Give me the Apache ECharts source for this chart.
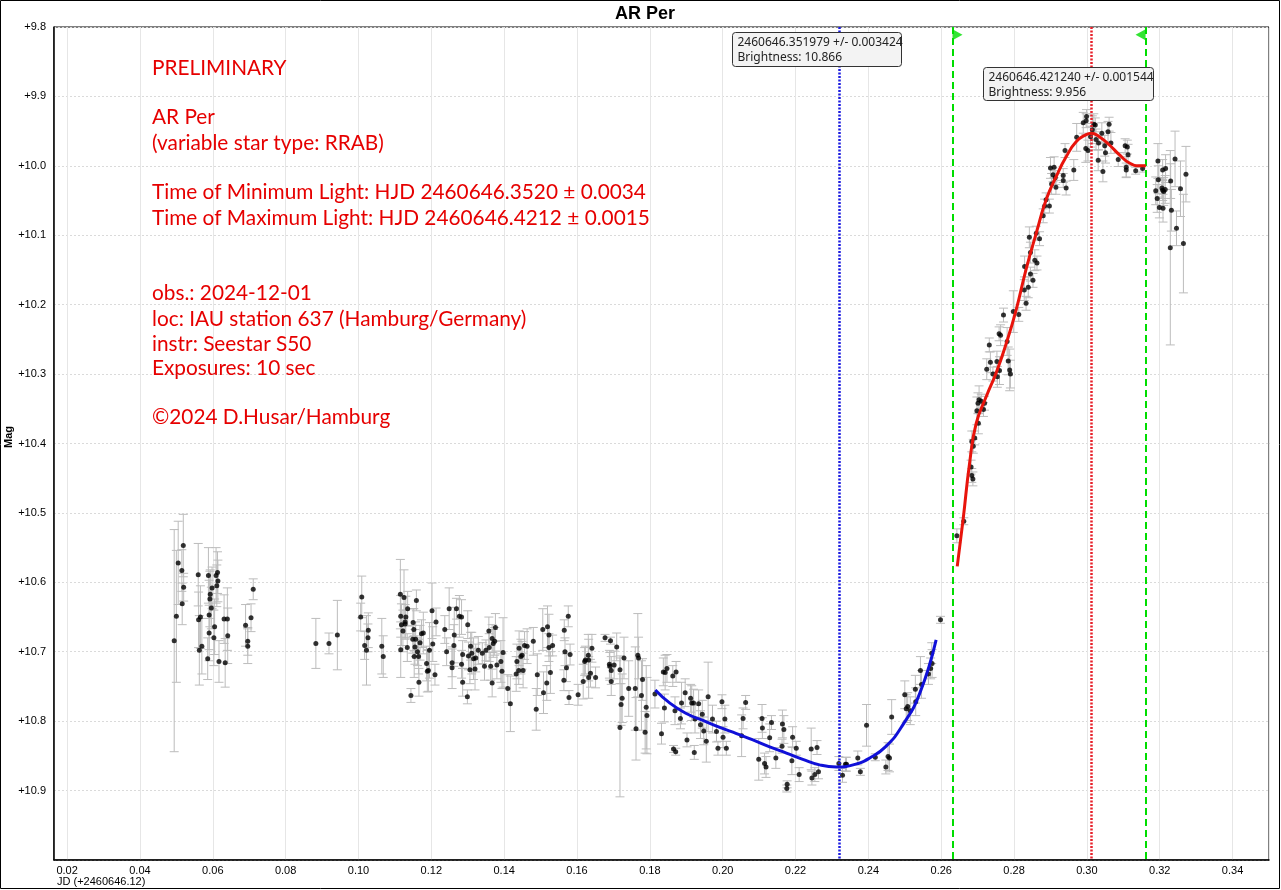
<!DOCTYPE html>
<html>
<head>
<meta charset="utf-8">
<title>AR Per</title>
<script src="https://cdn.jsdelivr.net/npm/echarts@6/dist/echarts.min.js"></script>
<style>
  html, body { margin: 0; padding: 0; background: #fff; }
  #chart { width: 1281px; height: 890px; }
</style>
</head>
<body>
<div id="chart"></div>
<script>
// observations: JD offset (+2460646.12), magnitude, error
const jd = [
  0.0494, 0.0500, 0.0505, 0.0515, 0.0520, 0.0516, 0.0519, 0.0560, 0.0561, 0.0566, 0.0563, 0.0570,
  0.0586, 0.0588, 0.0590, 0.0590, 0.0592, 0.0593, 0.0596, 0.0598, 0.0603, 0.0605, 0.0609, 0.0611,
  0.0613, 0.0614, 0.0617, 0.0631, 0.0640, 0.0634, 0.0641, 0.0690, 0.0705, 0.0711, 0.0696, 0.0696,
  0.0883, 0.0919, 0.0942, 0.1009, 0.1006, 0.1017, 0.1022, 0.1027, 0.1026, 0.1064, 0.1068,
  0.1115, 0.1125, 0.1116, 0.1118, 0.1122, 0.1116, 0.1128, 0.1130, 0.1135, 0.1128, 0.1150, 0.1152,
  0.1159, 0.1144, 0.1134, 0.1149, 0.1157, 0.1155, 0.1153, 0.1162, 0.1165, 0.1166, 0.1169, 0.1173,
  0.1178, 0.1187, 0.1192, 0.1189, 0.1204, 0.1202, 0.1213, 0.1210, 0.1195, 0.1237, 0.1242, 0.1249,
  0.1269, 0.1263, 0.1262, 0.1257, 0.1257, 0.1277, 0.1283, 0.1286, 0.1283, 0.1286, 0.1300, 0.1299,
  0.1302, 0.1306, 0.1308, 0.1311, 0.1316, 0.1320, 0.1322, 0.1329, 0.1340, 0.1346, 0.1350, 0.1358,
  0.1359, 0.1363, 0.1367, 0.1367, 0.1370, 0.1374, 0.1376, 0.1380, 0.1391, 0.1394, 0.1397, 0.1410,
  0.1417, 0.1433, 0.1435, 0.1441, 0.1440, 0.1446, 0.1449, 0.1452, 0.1456, 0.1463, 0.1480, 0.1488,
  0.1491, 0.1506, 0.1508, 0.1517, 0.1519, 0.1523, 0.1523, 0.1527, 0.1533, 0.1564, 0.1565, 0.1567,
  0.1571, 0.1576, 0.1578, 0.1581, 0.1603, 0.1617, 0.1621, 0.1623, 0.1631, 0.1632, 0.1632, 0.1637,
  0.1641, 0.1651, 0.1677, 0.1692, 0.1689, 0.1690, 0.1694, 0.1694, 0.1702, 0.1709, 0.1718, 0.1718,
  0.1721, 0.1724, 0.1729, 0.1742, 0.1762, 0.1760, 0.1767, 0.1769, 0.1777, 0.1780, 0.1787, 0.1790,
  0.1792, 0.1814, 0.1832, 0.1837, 0.1842, 0.1847, 0.1840, 0.1863, 0.1872, 0.1865, 0.1871, 0.1869,
  0.1884, 0.1887, 0.1897, 0.1902, 0.1912, 0.1915, 0.1922, 0.1920, 0.1924, 0.1934, 0.1939, 0.1944,
  0.1948, 0.1955, 0.1960, 0.1972, 0.1983, 0.1987, 0.1998, 0.2001, 0.2006, 0.2010, 0.2052, 0.2056,
  0.2063, 0.2099, 0.2109, 0.2108, 0.2115, 0.2119, 0.2129, 0.2134, 0.2146, 0.2163, 0.2164, 0.2168,
  0.2177, 0.2176, 0.2190, 0.2192, 0.2202, 0.2210, 0.2243, 0.2245, 0.2253, 0.2259, 0.2263, 0.2319,
  0.2329, 0.2337, 0.2340, 0.2371, 0.2378, 0.2395, 0.2419, 0.2448, 0.2454, 0.2458, 0.2464, 0.2500,
  0.2504, 0.2508, 0.2515, 0.2529, 0.2530, 0.2543, 0.2546, 0.2565, 0.2571, 0.2575, 0.2574, 0.2598,
  0.2643, 0.2662, 0.2682, 0.2684, 0.2687, 0.2684, 0.2688, 0.2692, 0.2698, 0.2701, 0.2704, 0.2710,
  0.2716, 0.2719, 0.2702, 0.2725, 0.2735, 0.2732, 0.2742, 0.2754, 0.2760, 0.2753, 0.2759, 0.2763,
  0.2771, 0.2781, 0.2784, 0.2788, 0.2790, 0.2798, 0.2813, 0.2828, 0.2833, 0.2839, 0.2829, 0.2842,
  0.2845, 0.2845, 0.2852, 0.2857, 0.2863, 0.2861, 0.2870, 0.2880, 0.2884, 0.2888, 0.2897, 0.2903,
  0.2900, 0.2910, 0.2907, 0.2915, 0.2913, 0.2935, 0.2935, 0.2943, 0.2940, 0.2964, 0.2972, 0.2990,
  0.2998, 0.2999, 0.2997, 0.3003, 0.3010, 0.3015, 0.3019, 0.3023, 0.3025, 0.3032, 0.3041, 0.3044,
  0.3031, 0.3051, 0.3049, 0.3058, 0.3061, 0.3066, 0.3086, 0.3105, 0.3111, 0.3113, 0.3108, 0.3108,
  0.3134, 0.3153,
  0.3195, 0.3189, 0.3193, 0.3196, 0.3199, 0.3206, 0.3208, 0.3211, 0.3209, 0.3208, 0.3216, 0.3215,
  0.3229, 0.3232, 0.3230, 0.3242, 0.3246, 0.3257, 0.3265, 0.3272
];
const mag = [
  10.684, 10.649, 10.572, 10.583, 10.607, 10.631, 10.547, 10.589, 10.654, 10.650, 10.698, 10.692,
  10.710, 10.590, 10.647, 10.673, 10.624, 10.617, 10.637, 10.608, 10.680, 10.664, 10.590, 10.605,
  10.586, 10.598, 10.714, 10.653, 10.653, 10.716, 10.677, 10.662, 10.651, 10.610, 10.685, 10.692,
  10.688, 10.688, 10.676, 10.621, 10.650, 10.691, 10.698, 10.669, 10.680, 10.692, 10.707,
  10.617, 10.622, 10.649, 10.661, 10.670, 10.697, 10.657, 10.650, 10.638, 10.660, 10.658, 10.668,
  10.626, 10.763, 10.694, 10.682, 10.682, 10.693, 10.707, 10.700, 10.707, 10.744, 10.687, 10.674,
  10.673, 10.717, 10.727, 10.728, 10.689, 10.641, 10.657, 10.733, 10.698, 10.668, 10.700, 10.638,
  10.638, 10.676, 10.691, 10.716, 10.723, 10.649, 10.650, 10.744, 10.718, 10.704, 10.661, 10.765,
  10.706, 10.726, 10.692, 10.702, 10.710, 10.725, 10.709, 10.698, 10.702, 10.721, 10.698, 10.670,
  10.694, 10.721, 10.681, 10.745, 10.688, 10.685, 10.665, 10.719, 10.714, 10.728, 10.701, 10.753,
  10.775, 10.732, 10.714, 10.695, 10.727, 10.707, 10.705, 10.727, 10.691, 10.692, 10.685, 10.783,
  10.733, 10.668, 10.759, 10.745, 10.664, 10.676, 10.694, 10.730, 10.691, 10.741, 10.669, 10.700,
  10.723, 10.649, 10.766, 10.704, 10.762, 10.743, 10.714, 10.712, 10.705, 10.712, 10.737, 10.731,
  10.695, 10.737, 10.680, 10.684, 10.718, 10.721, 10.727, 10.743, 10.719, 10.693, 10.726, 10.809,
  10.776, 10.767, 10.709, 10.753, 10.811, 10.753, 10.705, 10.709, 10.763, 10.740, 10.816, 10.780,
  10.792, 10.761, 10.818, 10.729, 10.730, 10.724, 10.781, 10.735, 10.729, 10.840, 10.844, 10.785,
  10.796, 10.774, 10.759, 10.827, 10.767, 10.774, 10.845, 10.774, 10.797, 10.775, 10.805, 10.790,
  10.814, 10.829, 10.765, 10.797, 10.815, 10.839, 10.772, 10.823, 10.797, 10.839, 10.821, 10.796,
  10.773, 10.855, 10.810, 10.796, 10.861, 10.866, 10.824, 10.802, 10.853, 10.836, 10.804, 10.812,
  10.891, 10.897, 10.857, 10.823, 10.839, 10.877, 10.840, 10.882, 10.877, 10.838, 10.873, 10.861,
  10.878, 10.862, 10.862, 10.853, 10.873, 10.806, 10.852, 10.866, 10.851, 10.853, 10.794, 10.762,
  10.782, 10.779, 10.785, 10.754, 10.772, 10.727, 10.747, 10.732, 10.724, 10.717, 10.702, 10.654,
  10.533, 10.512, 10.434, 10.446, 10.451, 10.397, 10.404, 10.392, 10.353, 10.342, 10.337, 10.339,
  10.351, 10.342, 10.371, 10.293, 10.283, 10.258, 10.300, 10.304, 10.295, 10.282, 10.242, 10.244,
  10.215, 10.253, 10.281, 10.294, 10.300, 10.210, 10.214, 10.179, 10.198, 10.175, 10.145, 10.103,
  10.125, 10.156, 10.165, 10.136, 10.140, 10.097, 10.105, 10.072, 10.058, 10.049, 10.058, 10.026,
  10.003, 10.002, 10.013, 10.031, 10.017, 10.014, 10.021, 10.032, 9.978, 10.006, 9.959, 9.938,
  9.935, 9.929, 9.975, 9.978, 9.958, 9.948, 9.940, 9.941, 9.962, 9.967, 9.953, 10.008,
  9.992, 9.981, 9.971, 9.951, 9.940, 9.967, 9.991, 9.971, 9.973, 9.984, 10.002, 10.006,
  10.007, 10.004,
  9.993, 10.036, 10.047, 10.020, 10.060, 10.032, 10.035, 10.037, 10.061, 10.006, 10.004, 10.034,
  10.118, 10.064, 10.022, 9.990, 10.090, 10.033, 10.112, 10.012
];
const magErr = [
  0.160, 0.095, 0.060, 0.030, 0.020, 0.030, 0.045, 0.045, 0.040, 0.045, 0.050, 0.040,
  0.030, 0.040, 0.050, 0.040, 0.040, 0.035, 0.030, 0.030, 0.040, 0.040, 0.040, 0.030,
  0.030, 0.030, 0.030, 0.035, 0.045, 0.035, 0.040, 0.030, 0.020, 0.015, 0.020, 0.025,
  0.036, 0.015, 0.050, 0.030, 0.020, 0.020, 0.050, 0.025, 0.020, 0.040, 0.030,
  0.050, 0.040, 0.030, 0.030, 0.030, 0.040, 0.025, 0.030, 0.025, 0.020, 0.020, 0.030,
  0.015, 0.010, 0.020, 0.020, 0.025, 0.025, 0.030, 0.020, 0.025, 0.020, 0.025, 0.020,
  0.030, 0.025, 0.030, 0.030, 0.025, 0.040, 0.020, 0.015, 0.040, 0.020, 0.020, 0.030,
  0.015, 0.040, 0.030, 0.020, 0.030, 0.030, 0.025, 0.020, 0.020, 0.020, 0.020, 0.010,
  0.020, 0.020, 0.020, 0.030, 0.030, 0.030, 0.020, 0.020, 0.015, 0.020, 0.015, 0.020,
  0.020, 0.020, 0.020, 0.020, 0.020, 0.020, 0.020, 0.020, 0.030, 0.025, 0.050, 0.020,
  0.040, 0.025, 0.025, 0.025, 0.020, 0.025, 0.020, 0.025, 0.020, 0.025, 0.020, 0.030,
  0.030, 0.030, 0.030, 0.025, 0.030, 0.030, 0.020, 0.030, 0.015, 0.015, 0.015, 0.020,
  0.020, 0.015, 0.010, 0.015, 0.015, 0.025, 0.020, 0.020, 0.030, 0.030, 0.030, 0.020,
  0.020, 0.015, 0.005, 0.005, 0.020, 0.020, 0.020, 0.020, 0.020, 0.020, 0.020, 0.100,
  0.030, 0.035, 0.030, 0.040, 0.045, 0.060, 0.060, 0.030, 0.050, 0.030, 0.030, 0.060,
  0.055, 0.020, 0.015, 0.020, 0.025, 0.020, 0.020, 0.015, 0.015, 0.005, 0.005, 0.020,
  0.015, 0.030, 0.020, 0.010, 0.020, 0.025, 0.010, 0.020, 0.020, 0.020, 0.020, 0.020,
  0.020, 0.030, 0.050, 0.020, 0.015, 0.010, 0.010, 0.015, 0.020, 0.010, 0.030, 0.015,
  0.010, 0.030, 0.015, 0.020, 0.015, 0.015, 0.020, 0.010, 0.015, 0.010, 0.020, 0.020,
  0.005, 0.005, 0.020, 0.015, 0.010, 0.010, 0.030, 0.010, 0.010, 0.010, 0.010, 0.010,
  0.010, 0.010, 0.010, 0.010, 0.005, 0.030, 0.005, 0.010, 0.020, 0.020, 0.025, 0.020,
  0.020, 0.020, 0.020, 0.020, 0.020, 0.020, 0.020, 0.015, 0.015, 0.020, 0.015, 0.005,
  0.010, 0.005, 0.010, 0.010, 0.010, 0.015, 0.010, 0.010, 0.020, 0.015, 0.020, 0.010,
  0.010, 0.010, 0.015, 0.015, 0.015, 0.010, 0.010, 0.015, 0.020, 0.015, 0.010, 0.015,
  0.010, 0.020, 0.020, 0.030, 0.020, 0.030, 0.010, 0.015, 0.010, 0.015, 0.015, 0.015,
  0.015, 0.010, 0.010, 0.015, 0.010, 0.010, 0.010, 0.010, 0.010, 0.010, 0.010, 0.015,
  0.015, 0.015, 0.010, 0.010, 0.010, 0.010, 0.010, 0.010, 0.010, 0.015, 0.020, 0.015,
  0.010, 0.010, 0.020, 0.015, 0.015, 0.020, 0.015, 0.010, 0.015, 0.010, 0.015, 0.015,
  0.015, 0.015, 0.015, 0.015, 0.010, 0.015, 0.010, 0.010, 0.010, 0.015, 0.015, 0.010,
  0.005, 0.005,
  0.025, 0.020, 0.020, 0.020, 0.015, 0.015, 0.015, 0.020, 0.020, 0.015, 0.020, 0.020,
  0.140, 0.030, 0.025, 0.040, 0.025, 0.040, 0.071, 0.040
];

// fitted light curves
const minFitJd = [0.1815, 0.1855, 0.1900, 0.1946, 0.1992, 0.2038, 0.2083, 0.2129, 0.2175, 0.2220,
  0.2266, 0.2312, 0.2358, 0.2404, 0.2449, 0.2495, 0.2541, 0.2586];
const minFitMag = [10.755, 10.774, 10.789, 10.799, 10.809, 10.818, 10.827, 10.837, 10.846, 10.855,
  10.863, 10.866, 10.863, 10.853, 10.836, 10.805, 10.760, 10.683];
const maxFitJd = [0.2644, 0.2660, 0.2678, 0.2696, 0.2724, 0.2751, 0.2779, 0.2806, 0.2833, 0.2861,
  0.2888, 0.2916, 0.2943, 0.2971, 0.2998, 0.3012, 0.3034, 0.3062, 0.3089, 0.3117, 0.3144, 0.3162];
const maxFitMag = [10.577, 10.510, 10.428, 10.371, 10.332, 10.298, 10.255, 10.207, 10.149, 10.097,
  10.049, 10.015, 9.987, 9.965, 9.955, 9.953, 9.958, 9.970, 9.984, 9.996, 10.000, 10.000];

const minLightJd = 0.2320;
const maxLightJd = 0.3012;
const fitWindow = [0.2631, 0.3161];

const notes = [
  ['PRELIMINARY', 68],
  ['AR Per', 117],
  ['(variable star type: RRAB)', 143],
  ['Time of Minimum Light: HJD 2460646.3520 \u00b1 0.0034', 192],
  ['Time of Maximum Light: HJD 2460646.4212 \u00b1 0.0015', 218],
  ['obs.: 2024-12-01', 293],
  ['loc: IAU station 637 (Hamburg/Germany)', 319],
  ['instr: Seestar S50', 344],
  ['Exposures: 10 sec', 368],
  ['\u00a92024 D.Husar/Hamburg', 417]
];

const points = jd.map((x, i) => [x, mag[i]]);
const errBars = jd.map((x, i) => [x, mag[i] - magErr[i], mag[i] + magErr[i]]);
const minFit = minFitJd.map((x, i) => [x, minFitMag[i]]);
const maxFit = maxFitJd.map((x, i) => [x, maxFitMag[i]]);

const renderErrorBar = (params, api) => {
  const x = api.value(0);
  const a = api.coord([x, api.value(1)]);
  const b = api.coord([x, api.value(2)]);
  const cap = 4.5;
  const style = { stroke: '#bcbcbc', lineWidth: 1 };
  return {
    type: 'group',
    children: [
      { type: 'line', shape: { x1: a[0], y1: a[1], x2: b[0], y2: b[1] }, style },
      { type: 'line', shape: { x1: a[0] - cap, y1: a[1], x2: a[0] + cap, y2: a[1] }, style },
      { type: 'line', shape: { x1: b[0] - cap, y1: b[1], x2: b[0] + cap, y2: b[1] }, style }
    ]
  };
};

// label boxes for the fitted extrema
const infoBox = (x, y, w, h, lines) => [
  { type: 'rect', x: x, y: y, z: 100, shape: { x: 0, y: 0, width: w, height: h, r: 3 },
    style: { fill: '#f3f3f3', stroke: '#333', lineWidth: 1 } },
  { type: 'text', x: x + 5, y: y + 10, z: 101,
    style: { text: lines[0], font: '12px "Noto Sans"', fill: '#222', verticalAlign: 'middle' } },
  { type: 'text', x: x + 5, y: y + 25, z: 101,
    style: { text: lines[1], font: '12px "Noto Sans"', fill: '#222', verticalAlign: 'middle' } }
];

const chart = echarts.init(document.getElementById('chart'));

const option = {
  animation: false,
  backgroundColor: '#fff',
  grid: {
    left: 54, right: 12, top: 27, bottom: 30,
    show: true, borderColor: '#000', borderWidth: 1
  },
  xAxis: {
    type: 'value',
    min: 0.0164,
    max: 0.35,
    splitNumber: 16,
    axisLine: { onZero: false, lineStyle: { color: '#000', width: 1.5 } },
    axisTick: { show: false },
    axisLabel: {
      color: '#000', fontFamily: 'Liberation Sans', fontSize: 11, margin: 5,
      showMinLabel: false, showMaxLabel: false,
      formatter: v => v.toFixed(2)
    },
    splitLine: { lineStyle: { color: '#e6e6e6', width: 1 } }
  },
  yAxis: {
    type: 'value',
    inverse: true,
    min: 9.8,
    max: 11.0,
    interval: 0.1,
    axisLine: { onZero: false, lineStyle: { color: '#000', width: 1.5 } },
    axisTick: { show: false },
    axisLabel: {
      color: '#000', fontFamily: 'Liberation Sans', fontSize: 11, margin: 8,
      formatter: v => (v > 10.95 ? '' : '+' + v.toFixed(1))
    },
    splitLine: { lineStyle: { color: '#dadada', width: 1, type: [2, 2] } }
  },
  graphic: [
    { type: 'rect', shape: { x: 0.5, y: 0.5, width: 1279, height: 888 },
      style: { fill: 'none', stroke: '#000', lineWidth: 1 }, z: 200 },
    { type: 'text', x: 645, y: 14, style: { text: 'AR Per', font: 'bold 18px "Liberation Sans"', fill: '#000', align: 'center', verticalAlign: 'middle' } },
    { type: 'text', x: 9, y: 437, rotation: Math.PI / 2, style: { text: 'Mag', font: 'bold 11px "Liberation Sans"', fill: '#000', align: 'center', verticalAlign: 'middle' } },
    { type: 'text', x: 57, y: 882, style: { text: 'JD (+2460646.12)', font: '11px "Liberation Sans"', fill: '#000', verticalAlign: 'middle' } },
    ...notes.map(([t, y]) => ({
      type: 'text', x: 152, y: y, z: 50,
      style: { text: t, font: '20.8px Lato', fill: '#e60000', verticalAlign: 'middle' }
    })),
    ...infoBox(732.5, 32.5, 169, 34, ['2460646.351979 +/- 0.003424', 'Brightness: 10.866']),
    ...infoBox(983.5, 67.5, 170, 33, ['2460646.421240 +/- 0.001544', 'Brightness: 9.956'])
  ],
  series: [
    {
      name: 'errors',
      type: 'custom',
      renderItem: renderErrorBar,
      data: errBars,
      encode: { x: 0, y: [1, 2] },
      silent: true,
      z: 1
    },
    {
      name: 'observations',
      type: 'scatter',
      data: points,
      symbol: 'circle',
      symbolSize: 5,
      itemStyle: { color: '#000' },
      z: 3,
      markLine: {
        symbol: 'none',
        silent: true,
        precision: 4,
        label: { show: false },
        data: [
          { xAxis: minLightJd, lineStyle: { color: '#1a1ae0', width: 2.5, type: [2, 1.5] } },
          { xAxis: maxLightJd, lineStyle: { color: '#e8202a', width: 2.5, type: [2, 1.5] } },
          { xAxis: fitWindow[0], lineStyle: { color: '#00dd00', width: 2, type: [7, 4] } },
          { xAxis: fitWindow[1], lineStyle: { color: '#00dd00', width: 2, type: [7, 4] } }
        ]
      }
    },
    {
      name: 'window markers',
      type: 'scatter',
      data: [
        { value: [fitWindow[0], 9.811], symbolRotate: -90, symbolOffset: [5, 0] },
        { value: [fitWindow[1], 9.811], symbolRotate: 90, symbolOffset: [-5, 0] }
      ],
      symbol: 'triangle',
      symbolSize: [11, 10],
      itemStyle: { color: '#00dd00' },
      silent: true,
      z: 6
    },
    {
      name: 'min fit',
      type: 'line',
      data: minFit,
      smooth: true,
      showSymbol: false,
      lineStyle: { color: '#1010d8', width: 3 },
      z: 5
    },
    {
      name: 'max fit',
      type: 'line',
      data: maxFit,
      smooth: true,
      showSymbol: false,
      lineStyle: { color: '#e8140c', width: 3 },
      z: 5
    }
  ]
};

chart.setOption(option);
</script>
</body>
</html>
